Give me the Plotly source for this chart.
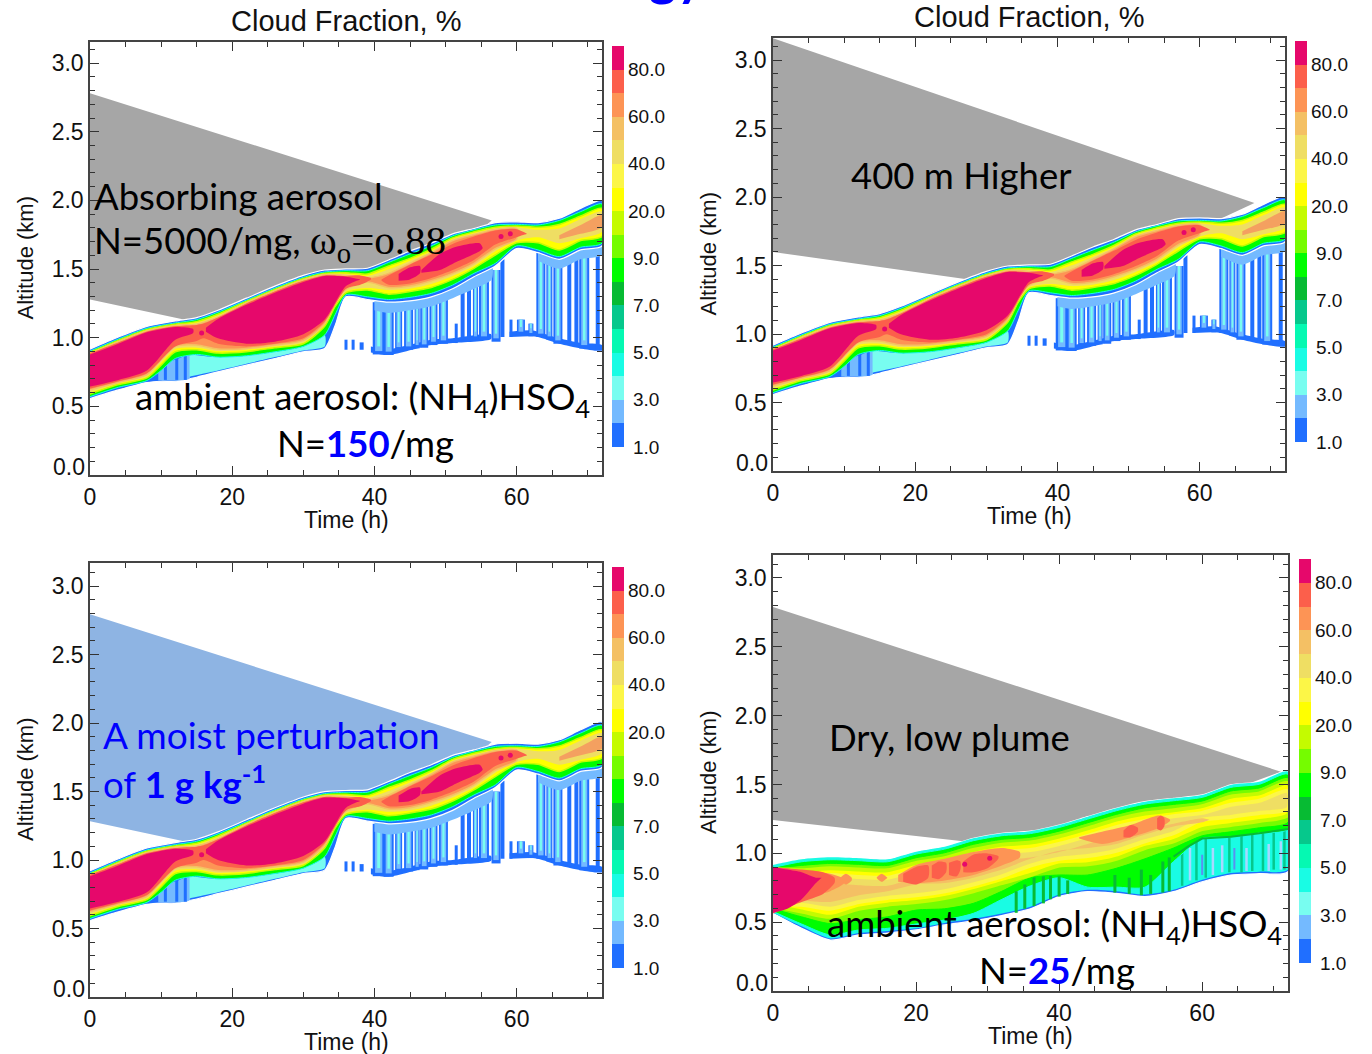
import plotly.graph_objects as go

# ---------- colour bar ----------
CB_COLORS = ["#206fff", "#74baff", "#78fdf0", "#19fce4", "#05f9b2", "#06c88c", "#07bb33", "#00fd00", "#75fc00",
             "#c4fb00", "#ffff00", "#fcf647", "#efde63", "#f4c064", "#fd9455", "#fc5f4b", "#e6086b"]
CB_LABELS = ["1.0", "3.0", "5.0", "7.0", "9.0", "20.0", "40.0", "60.0", "80.0"]
CB_LABEL_POS = [0, 2, 4, 6, 8, 10, 12, 14, 16]
Y_TICKS = [0, .5, 1, 1.5, 2, 2.5, 3]
Y_TICK_TEXT = ["", "0.5", "1.0", "1.5", "2.0", "2.5", "3.0"]

# ---------- cloud in panels A, B, C: edge altitudes (see READ_SCALE) ----------
ABC_T_TOP = [0, 4, 8, 12, 15, 18, 22, 26, 30, 33, 36, 39, 42, 45, 48, 51, 54, 57, 60, 63, 66, 69, 72]
ABC_BLUE_TOP = [.88, .97, 1.05, 1.09, 1.115, 1.17, 1.26, 1.35, 1.43, 1.47, 1.478, 1.483, 1.545, 1.612, 1.67, 1.74, 1.78, 1.824, 1.83, 1.824, 1.856, 1.93, 1.988]
ABC_GREEN_TOP = [.865, .955, 1.035, 1.075, 1.10, 1.155, 1.245, 1.335, 1.415, 1.455, 1.465, 1.465, 1.527, 1.59, 1.65, 1.725, 1.77, 1.806, 1.811, 1.806, 1.84, 1.906, 1.963]
ABC_YELLOW_TOP = [.855, .945, 1.025, 1.065, 1.085, 1.14, 1.235, 1.325, 1.405, 1.445, 1.45, 1.44, 1.50, 1.557, 1.625, 1.71, 1.755, 1.789, 1.799, 1.789, 1.81, 1.873, 1.93]
ABC_KHAKI_TOP = [.85, .94, 1.02, 1.06, 1.075, 1.13, 1.23, 1.32, 1.40, 1.44, 1.44, 1.425, 1.475, 1.54, 1.61, 1.70, 1.745, 1.78, 1.79, 1.77, 1.78, 1.85, 1.906]
ABC_ORANGE_TOP = [.845, .935, 1.015, 1.055, 1.065, 1.12, 1.225, 1.315, 1.395, 1.435, 1.43, 1.41, 1.445, 1.52, 1.60, 1.69, 1.735, 1.774, 1.78]

ABC_T_LOW = [0, 4, 8, 10, 12, 15, 18, 22, 26, 30, 33, 34.5, 36, 39, 42, 45, 48, 51, 54, 57, 60, 63, 66, 69, 72]
ABC_BLUE_LOW = [.51, .575, .63, .64, .64, .67, .71, .76, .81, .86, .885, 1.06, 1.27, 1.25, 1.23, 1.24, 1.27, 1.33, 1.42, 1.50, 1.63, 1.60, 1.55, 1.62, 1.65]
ABC_GREEN_LOW = [.525, .595, .645, .72, .81, .84, .82, .83, .86, .90, .985, 1.14, 1.285, 1.27, 1.25, 1.266, 1.296, 1.358, 1.445, 1.52, 1.65, 1.62, 1.57, 1.64, 1.67]
ABC_YELLOW_LOW = [.545, .615, .665, .76, .86, .875, .85, .86, .89, .92, 1.05, 1.2, 1.3, 1.32, 1.29, 1.31, 1.34, 1.40, 1.483, 1.582, 1.674, 1.674, 1.62, 1.69, 1.72]
ABC_KHAKI_LOW = [.555, .625, .675, .78, .88, .89, .865, .875, .90, .93, 1.06, 1.21, 1.31, 1.335, 1.32, 1.33, 1.365, 1.425, 1.50, 1.61, 1.69, 1.714, 1.67, 1.707, 1.756]
ABC_ORANGE_LOW = [.575, .63, .69, .80, .90, .91, .88, .885, .91, .945, 1.07, 1.23, 1.325, 1.38, 1.34, 1.35, 1.39, 1.445, 1.52, 1.63, 1.70]

ABC_ORANGE2_T = [66, 69, 72]
ABC_ORANGE2_LOW = [1.70, 1.74, 1.79]
ABC_ORANGE2_TOP = [1.73, 1.806, 1.88]

ABC_CORAL1_T = [0, 4, 8, 12, 15, 16, 18, 22, 26, 30, 33, 36, 38, 39.5]
ABC_CORAL1_LOW = [.585, .64, .70, .90, .94, .96, .92, .90, .92, .96, 1.085, 1.33, 1.36, 1.40]
ABC_CORAL1_TOP = [.85, .93, 1.012, 1.05, 1.06, 1.07, 1.115, 1.22, 1.31, 1.39, 1.43, 1.425, 1.43, 1.41]
ABC_CORAL2_T = [41, 42, 45, 48, 51, 54, 57, 60, 61.5]
ABC_CORAL2_LOW = [1.39, 1.36, 1.37, 1.41, 1.47, 1.545, 1.66, 1.715, 1.74]
ABC_CORAL2_TOP = [1.40, 1.43, 1.51, 1.585, 1.665, 1.72, 1.765, 1.775, 1.74]

ABC_PINK1_T = [0, 4, 8, 12, 14.5]
ABC_PINK1_LOW = [.60, .65, .72, .95, 1.0]
ABC_PINK1_TOP = [.84, .92, 1.005, 1.045, 1.03]
ABC_PINK2_T = [16.3, 18, 22, 26, 30, 33, 36, 38]
ABC_PINK2_LOW = [1.01, .96, .92, .935, .99, 1.1, 1.35, 1.40]
ABC_PINK2_TOP = [1.04, 1.105, 1.21, 1.30, 1.38, 1.425, 1.42, 1.40]
ABC_PINK3_T = [43.4, 45, 46.4]
ABC_PINK3_LOW = [1.39, 1.40, 1.445]
ABC_PINK3_TOP = [1.44, 1.49, 1.50]
ABC_PINK4_T = [46.6, 49.2, 51.5, 54.8, 55.2]
ABC_PINK4_LOW = [1.45, 1.47, 1.53, 1.61, 1.63]
ABC_PINK4_TOP = [1.47, 1.59, 1.644, 1.67, 1.64]
ABC_SPOT_T = [15.7, 57.8, 59.1]
ABC_SPOT_ALT = [1.0, 1.72, 1.74]

# thin cloud below the main deck
ABC_CYAN_T = [14, 18, 22, 26, 30, 33]
ABC_CYAN_LOW = [.675, .72, .77, .82, .87, .90]
ABC_CYAN_TOP = [.84, .82, .83, .86, .90, .985]
ABC_FRINGE_T = [40, 42, 45, 48, 51, 54, 56.5]
ABC_FRINGE_LOW = [1.17, 1.15, 1.17, 1.20, 1.26, 1.33, 1.40]
ABC_FRINGE_TOP = [1.27, 1.25, 1.266, 1.296, 1.358, 1.445, 1.51]
ABC_FRINGE2_T = [63, 66, 69, 72]
ABC_FRINGE2_LOW = [1.54, 1.48, 1.55, 1.58]
ABC_FRINGE2_TOP = [1.62, 1.57, 1.64, 1.67]
ABC_ARCH_T = [9.6, 11, 12.5, 14]
ABC_ARCH_LOW = [.645, .645, .645, .66]
ABC_ARCH_TOP = [.70, .78, .81, .84]
ABC_BASE1_T = [39.5, 42, 48, 51, 56.4]
ABC_BASE1_LOW = [.855, .836, .91, .925, .955]
ABC_BASE1_TOP = [.90, .88, .95, .96, .99]
ABC_BASE2_T = [59, 62, 63, 66, 69, 72]
ABC_BASE2_LOW = [.97, .975, .97, .92, .885, .87]
ABC_BASE2_TOP = [1.01, 1.02, 1.01, .96, .925, .91]
ABC_COL_T = [10.6, 12.2, 13.4, 36.0, 37.0, 38.2, 40.6, 42.0, 43.4, 44.8, 46.0, 47.0, 48.3, 49.7, 51.5, 52.4, 53.3, 54.2, 55.4, 57.1, 58.0, 59.2, 60.6, 62.0, 63.4, 64.6, 65.8, 67.4, 68.4, 69.5, 71.4]
ABC_COL_TOP = [.76, .82, .84, .95, .95, .93, 1.23, 1.23, 1.25, 1.25, 1.26, 1.27, 1.28, 1.32, 1.07, 1.37, 1.38, 1.40, 1.45, 1.47, 1.55, 1.10, 1.10, 1.07, 1.62, 1.60, 1.56, 1.58, 1.60, 1.62, 1.67]
ABC_COL_BOT = [.65, .65, .65, .875, .875, .875, .84, .836, .87, .875, .885, .89, .91, .92, .925, .95, .95, .95, .95, .935, .97, .97, .985, .975, .97, .95, .92, .91, .90, .885, .875]
ABC_COL_WIDTH = [3, 3, 3, 3, 3, 4, 12, 10, 7, 9, 5, 8, 8, 9, 3, 4, 4, 5, 10, 9, 4, 3, 8, 5, 9, 6, 9, 4, 4, 10, 4]

# ---------- cloud in panel D ----------
D_T = [0, 4, 8, 12, 16, 20, 24, 28, 32, 36, 40, 44, 48, 52, 56, 60, 64, 68, 72]
D_BLUE_TOP = [.874, .916, .931, .924, .916, .973, 1.01, 1.072, 1.109, 1.125, 1.17, 1.232, 1.294, 1.343, 1.368, 1.393, 1.467, 1.49, 1.565]
D_GREEN_TOP = [.856, .898, .913, .906, .898, .955, .992, 1.054, 1.091, 1.107, 1.152, 1.214, 1.276, 1.325, 1.35, 1.375, 1.449, 1.472, 1.547]
D_LIME_TOP = [.85, .871, .886, .879, .871, .928, .965, 1.027, 1.064, 1.08, 1.125, 1.187, 1.249, 1.298, 1.323, 1.348, 1.422, 1.445, 1.52]
D_YELLOW_TOP = [.845, .835, .85, .84, .835, .89, .925, .985, 1.025, 1.04, 1.085, 1.145, 1.21, 1.255, 1.28, 1.31, 1.38, 1.405, 1.48]
D_KHAKI_TOP = [.835, .79, .80, .785, .78, .835, .87, .93, .97, .985, 1.03, 1.09, 1.155, 1.20, 1.235, 1.26, 1.32, 1.35, 1.42]
D_BLUE_LOW = [.516, .405, .318, .356, .37, .393, .43, .46, .50, .55, .64, .677, .664, .64, .677, .75, .80, .81, .825]
D_CYAN_LOW = [.52, .42, .33, .37, .385, .405, .445, .475, .515, .565, .655, .69, .68, .655, .69, .765, .815, .825, .84]
D_GREEN_LOW = [.53, .437, .356, .393, .405, .437, .467, .516, .62, .72, .78, .71, .71, .71, .90, 1.07, 1.08, 1.11, 1.14]
D_LIME_LOW = [.55, .49, .44, .47, .49, .54, .55, .59, .68, .78, .80, .80, .85, .92, 1.0, 1.09, 1.12, 1.15, 1.19]
D_YELLOW_LOW = [.57, .53, .49, .55, .58, .60, .63, .68, .74, .80, .87, .88, .92, 1.00, 1.05, 1.14, 1.17, 1.2, 1.245]
D_KHAKI_LOW = [.58, .58, .55, .60, .63, .65, .68, .73, .79, .87, .92, .94, .98, 1.05, 1.11, 1.21, 1.23, 1.26, 1.29]

D_LORANGE_T = [0, 4, 8, 12, 16, 20, 24, 28, 32, 36, 40, 44, 48, 52, 56, 60, 61]
D_LORANGE_TOP = [.825, .76, .74, .725, .72, .78, .81, .87, .91, .93, .97, 1.03, 1.09, 1.14, 1.18, 1.22, 1.21]
D_LORANGE_LOW = [.59, .61, .60, .65, .68, .73, .74, .78, .84, .92, .98, 1.0, 1.03, 1.1, 1.16, 1.19, 1.21]

D_ORANGE_BLOBS_T = [[0, 4, 8, 10], [9.4, 10.2, 11], [14.5, 15.2, 16], [17.5, 20, 24, 28, 32, 34.5], [42.8, 46, 50, 54, 55.5]]
D_ORANGE_BLOBS_LOW = [[.52, .62, .68, .74], [.76, .73, .76], [.78, .75, .78], [.75, .74, .76, .80, .87, .93], [1.07, 1.03, 1.08, 1.15, 1.20]]
D_ORANGE_BLOBS_TOP = [[.85, .83, .81, .77], [.78, .81, .78], [.78, .81, .78], [.80, .875, .92, .97, 1.0, .97], [1.08, 1.12, 1.17, 1.24, 1.21]]
D_CORAL_BLOBS_T = [[0, 4, 7, 8.6], [18.2, 20, 21.7], [22.2, 23.2, 24.2], [24.6, 25.7, 26.2], [26.6, 28, 30, 31.5], [49, 50, 51], [53.7, 54.2, 54.7]]
D_CORAL_BLOBS_LOW = [[.515, .60, .66, .74], [.75, .73, .78], [.78, .77, .82], [.80, .79, .84], [.82, .82, .85, .92], [1.08, 1.08, 1.12], [1.14, 1.13, 1.16]]
D_CORAL_BLOBS_TOP = [[.86, .84, .82, .78], [.81, .86, .87], [.87, .90, .89], [.89, .91, .90], [.90, .95, .96, .94], [1.13, 1.17, 1.15], [1.22, 1.24, 1.22]]
D_PINK_T = [0, 2, 4, 6, 6.8]
D_PINK_LOW = [.52, .55, .62, .74, .78]
D_PINK_TOP = [.862, .84, .82, .78, .78]
D_SPOT_T = [26.8, 30.3]
D_SPOT_ALT = [.88, .925]

D_DARK_T = [56, 58, 60, 64, 68, 72]
D_DARK_ALT = [.936, 1.01, 1.07, 1.084, 1.109, 1.14]
D_DRIP_T = [34, 35.2, 36.5, 37.8, 38.8, 40.0, 41.2, 47.8, 49.8, 51.5, 52.8, 54.5, 55.4]
D_DRIP_TOP = [.68, .73, .79, .80, .80, .79, .76, .80, .78, .84, .80, .90, .93]
D_DRIP_BOT = [.52, .55, .57, .59, .62, .64, .66, .67, .66, .65, .66, .67, .68]
D_TEAL_T = [57.2, 59.2, 60.5, 63.8, 65.5, 67, 68.5, 70, 71.5]
D_TEAL_TOP = [1.0, 1.06, 1.07, 1.08, 1.09, 1.10, 1.11, 1.12, 1.13]
D_TEAL_BOT = [.72, .76, .78, .82, .82, .83, .83, .84, .84]
D_LIGHT_T = [58.3, 61.5, 62.8, 66.2, 69.3, 71]
D_LIGHT_TOP = [1.0, 1.0, 1.02, 1.0, 1.03, 1.05]
D_LIGHT_BOT = [.76, .80, .82, .83, .83, .84]
D_STREAK_T = [60, 64.5]
D_STREAK_TOP = [.95, 1.0]
D_STREAK_BOT = [.80, .84]

# ---------- plume wedges; their lower edges hide behind the cloud ----------
WEDGE_A_T = [0, 56.5, 50, 40, 30, 20, 15, 0]
WEDGE_A_ALT = [2.79, 1.84, 1.55, 1.35, 1.25, 1.12, 1.08, 1.25]
WEDGE_B_T = [0, 67.7, 60, 50, 40, 30, 0]
WEDGE_B_ALT = [3.17, 1.94, 1.75, 1.55, 1.40, 1.35, 1.575]
WEDGE_D_T = [0, 71, 60, 40, 30, 0]
WEDGE_D_ALT = [2.785, 1.565, 1.35, 1.10, 1.03, 1.207]

# ---------- panel frames, in page pixels: left, right, top, bottom, px per km ----------
FRAMES = [(90, 602, 42, 475, 137.3), (773, 1285, 38, 471, 137), (90, 602, 563, 997, 137), (773, 1288, 555, 991, 137.7)]
# the edge lists above were read with this px-per-km and with their zero 8 px above the axis floor
READ_SCALE = [134, 134, 134.3, 135]
BARS = [(612, 624, 46, 447), (1295, 1307, 41, 442), (612, 624, 567, 968), (1299, 1311, 559, 963)]
PANEL_TITLES = ["Cloud Fraction, %", "Cloud Fraction, %", None, None]
YTITLE_X = [25, 708, 25, 708]
W, H = 1372, 1054
SANS = "Liberation Sans"
CAL = "Lato"
BLACK = "#111111"
fig = go.Figure()


def px(x):
    return x / W


def py(y):
    return 1 - y / H


def km(ax, values):
    n = int(ax or 1) - 1
    return [(8 + READ_SCALE[n] * v) / FRAMES[n][4] for v in values]


def band(ax, t_hi, hi, t_lo, lo, fill, stroke=None, w=0):
    t_a = list(t_hi[:len(hi)])
    t_b = list(t_lo[:len(lo)])
    fig.add_trace(go.Scatter(x=t_a + t_b[::-1], y=km(ax, list(hi) + list(lo)[::-1]), fill="toself", fillcolor=fill,
                             mode="lines", line=dict(color=stroke or fill, width=w, shape="spline", smoothing=.7),
                             hoverinfo="skip", showlegend=False, xaxis="x" + ax, yaxis="y" + ax))


def columns(ax, ts, tops, bots, colour, width):
    xs, ys = [], []
    for t, a, b in zip(ts, km(ax, tops), km(ax, bots)):
        xs += [t, t, None]
        ys += [a, b, None]
    fig.add_trace(go.Scatter(x=xs, y=ys, mode="lines", line=dict(color=colour, width=width), hoverinfo="skip",
                             showlegend=False, xaxis="x" + ax, yaxis="y" + ax))


def spots(ax, ts, alts):
    fig.add_trace(go.Scatter(x=ts, y=km(ax, alts), mode="markers", marker=dict(color="#e6086b", size=5),
                             hoverinfo="skip", showlegend=False, xaxis="x" + ax, yaxis="y" + ax))


def cloud_abc(ax):
    for base in [(ABC_BASE1_T, ABC_BASE1_TOP, ABC_BASE1_LOW), (ABC_BASE2_T, ABC_BASE2_TOP, ABC_BASE2_LOW)]:
        band(ax, base[0], base[1], base[0], base[2], "#206fff")
    for t, a, b, wd in zip(ABC_COL_T, ABC_COL_TOP, ABC_COL_BOT, ABC_COL_WIDTH):
        columns(ax, [t], [a], [b], "#206fff", wd)
        if wd >= 5:
            columns(ax, [t], [a], [b + .025], "#74baff", wd * .6)
            columns(ax, [t], [a], [b + .06], "#78fdf0", wd * .25)
    band(ax, ABC_FRINGE_T, ABC_FRINGE_TOP, ABC_FRINGE_T, ABC_FRINGE_LOW, "#74baff")
    band(ax, ABC_FRINGE2_T, ABC_FRINGE2_TOP, ABC_FRINGE2_T, ABC_FRINGE2_LOW, "#74baff")
    band(ax, ABC_T_TOP, ABC_BLUE_TOP, ABC_T_LOW, ABC_BLUE_LOW, "#206fff", "#ffffff", 1.2)
    band(ax, ABC_ARCH_T, ABC_ARCH_TOP, ABC_ARCH_T, ABC_ARCH_LOW, "#74baff")
    columns(ax, ABC_COL_T[:3], ABC_COL_TOP[:3], ABC_COL_BOT[:3], "#206fff", 3)
    band(ax, ABC_CYAN_T, ABC_CYAN_TOP, ABC_CYAN_T, ABC_CYAN_LOW, "#78fdf0")
    band(ax, ABC_T_TOP, ABC_GREEN_TOP, ABC_T_LOW, ABC_GREEN_LOW, "#00fd00", "#19fce4", 1)
    band(ax, ABC_T_TOP, ABC_YELLOW_TOP, ABC_T_LOW, ABC_YELLOW_LOW, "#ffff00", "#c4fb00", 1.5)
    band(ax, ABC_T_TOP, ABC_KHAKI_TOP, ABC_T_LOW, ABC_KHAKI_LOW, "#efde63")
    band(ax, ABC_T_TOP, ABC_ORANGE_TOP, ABC_T_LOW, ABC_ORANGE_LOW, "#fd9455", "#f4c064", 1.5)
    band(ax, ABC_ORANGE2_T, ABC_ORANGE2_TOP, ABC_ORANGE2_T, ABC_ORANGE2_LOW, "#f4a060")
    band(ax, ABC_CORAL1_T, ABC_CORAL1_TOP, ABC_CORAL1_T, ABC_CORAL1_LOW, "#fc5f4b")
    band(ax, ABC_CORAL2_T, ABC_CORAL2_TOP, ABC_CORAL2_T, ABC_CORAL2_LOW, "#fc5f4b")
    for t, hi, lo in [(ABC_PINK1_T, ABC_PINK1_TOP, ABC_PINK1_LOW), (ABC_PINK2_T, ABC_PINK2_TOP, ABC_PINK2_LOW),
                      (ABC_PINK3_T, ABC_PINK3_TOP, ABC_PINK3_LOW), (ABC_PINK4_T, ABC_PINK4_TOP, ABC_PINK4_LOW)]:
        band(ax, t, hi, t, lo, "#e6086b")
    spots(ax, ABC_SPOT_T, ABC_SPOT_ALT)


def cloud_d(ax):
    band(ax, D_T, D_BLUE_TOP, D_T, D_BLUE_LOW, "#206fff", "#ffffff", 1.2)
    band(ax, D_T, D_BLUE_TOP, D_T, D_CYAN_LOW, "#19fce4")
    columns(ax, D_TEAL_T, D_TEAL_TOP, D_TEAL_BOT, "#06c88c", 2.5)
    columns(ax, D_LIGHT_T, D_LIGHT_TOP, D_LIGHT_BOT, "#a8d8ff", 2.5)
    columns(ax, D_STREAK_T, D_STREAK_TOP, D_STREAK_BOT, "#5a90f0", 2)
    band(ax, D_T, D_GREEN_TOP, D_T, D_GREEN_LOW, "#00fd00", "#19fce4", 1)
    columns(ax, D_DRIP_T, D_DRIP_TOP, D_DRIP_BOT, "#07bb33", 3)
    band(ax, D_T, D_LIME_TOP, D_T, D_LIME_LOW, "#75fc00", "#00fd00", 1)
    band(ax, D_T, D_YELLOW_TOP, D_T, D_YELLOW_LOW, "#ffff00", "#c4fb00", 4)
    band(ax, D_T, D_KHAKI_TOP, D_T, D_KHAKI_LOW, "#efde63", "#fcf647", 4)
    band(ax, D_LORANGE_T, D_LORANGE_TOP, D_LORANGE_T, D_LORANGE_LOW, "#f4c064")
    for t, hi, lo in zip(D_ORANGE_BLOBS_T, D_ORANGE_BLOBS_TOP, D_ORANGE_BLOBS_LOW):
        band(ax, t, hi, t, lo, "#fd9455")
    for t, hi, lo in zip(D_CORAL_BLOBS_T, D_CORAL_BLOBS_TOP, D_CORAL_BLOBS_LOW):
        band(ax, t, hi, t, lo, "#fc5f4b")
    band(ax, D_PINK_T, D_PINK_TOP, D_PINK_T, D_PINK_LOW, "#e6086b")
    spots(ax, D_SPOT_T, D_SPOT_ALT)
    fig.add_trace(go.Scatter(x=D_DARK_T, y=km(ax, D_DARK_ALT), mode="lines", line=dict(color="#07bb33", width=2),
                             hoverinfo="skip", showlegend=False, xaxis="x" + ax, yaxis="y" + ax))


def wedge(ax, ts, alts, colour):
    fig.add_trace(go.Scatter(x=ts, y=km(ax, alts), fill="toself", fillcolor=colour, mode="lines", line=dict(width=0),
                             hoverinfo="skip", showlegend=False, xaxis="x" + ax, yaxis="y" + ax))


wedge("", WEDGE_A_T, WEDGE_A_ALT, "#a6a6a6")
cloud_abc("")
wedge("2", WEDGE_B_T, WEDGE_B_ALT, "#a6a6a6")
cloud_abc("2")
wedge("3", WEDGE_A_T, WEDGE_A_ALT, "#8eb4e3")
cloud_abc("3")
wedge("4", WEDGE_D_T, WEDGE_D_ALT, "#a6a6a6")
cloud_d("4")

layout = dict(width=W, height=H, margin=dict(l=0, r=0, t=0, b=0), paper_bgcolor="white", plot_bgcolor="white",
              showlegend=False, font=dict(family=SANS, color=BLACK))
annotations = []
stops = []
for i, c in enumerate(CB_COLORS):
    stops += [[i / len(CB_COLORS), c], [(i + 1) / len(CB_COLORS), c]]

for n, ((l, r, t, b, s), (bl, br, bt, bb)) in enumerate(zip(FRAMES, BARS)):
    sx = "" if n == 0 else str(n + 1)
    line = dict(showline=True, linecolor="#444444", linewidth=1.5, mirror="allticks", ticks="inside", showgrid=False,
                zeroline=False, tickcolor="#333333", tickfont=dict(size=23, family=SANS, color=BLACK), automargin=False)
    layout["xaxis" + sx] = dict(domain=[px(l), px(r)], range=[0, 72], anchor="y" + sx, tick0=0, dtick=20, ticklen=9,
                                ticklabelstandoff=1,
                                minor=dict(tick0=0, dtick=5, ticks="inside", ticklen=5, tickcolor="#333333", showgrid=False),
                                **line)
    layout["yaxis" + sx] = dict(domain=[py(b), py(t)], range=[0, (b - t) / s], anchor="x" + sx, tickmode="array",
                                tickvals=Y_TICKS, ticktext=Y_TICK_TEXT, ticklen=9,
                                minor=dict(tickmode="linear", tick0=0, dtick=.1, ticks="inside", ticklen=5,
                                           tickcolor="#333333", showgrid=False),
                                **line)
    annotations.append(dict(text="0.0", x=px(l - 3), y=py(b - 8), xref="paper", yref="paper", xanchor="right",
                            yanchor="middle", showarrow=False, font=dict(size=23, family=SANS, color=BLACK)))
    if PANEL_TITLES[n]:
        annotations.append(dict(text=PANEL_TITLES[n], x=px((l + r) / 2), y=py(t - 21), xref="paper", yref="paper",
                                xanchor="center", yanchor="middle", showarrow=False,
                                font=dict(size=29, family=SANS, color=BLACK)))
    annotations.append(dict(text="Time (h)", x=px((l + r) / 2), y=py(b + 45), xref="paper", yref="paper",
                            xanchor="center", yanchor="middle", showarrow=False,
                            font=dict(size=23, family=SANS, color=BLACK)))
    annotations.append(dict(text="Altitude (km)", x=px(YTITLE_X[n]), y=py((t + b) / 2), xref="paper", yref="paper",
                            xanchor="center", yanchor="middle", textangle=-90, showarrow=False,
                            font=dict(size=22, family=SANS, color=BLACK)))
    # colour bar
    cx, cy = str(n + 5), str(n + 5)
    layout["xaxis" + cx] = dict(domain=[px(bl), px(br)], range=[0, 1], visible=False, anchor="y" + cy)
    layout["yaxis" + cy] = dict(domain=[py(bb), py(bt)], range=[0, len(CB_COLORS)], visible=False, anchor="x" + cx)
    fig.add_trace(go.Heatmap(x=[.5], y=[i + .5 for i in range(len(CB_COLORS))], z=[[i] for i in range(len(CB_COLORS))],
                             colorscale=stops, zmin=-.5, zmax=len(CB_COLORS) - .5, showscale=False, hoverinfo="skip",
                             xaxis="x" + cx, yaxis="y" + cy))
    for lab, pos in zip(CB_LABELS, CB_LABEL_POS):
        annotations.append(dict(text=lab, x=px(br + 22), y=pos, xref="paper", yref="y" + cy, xanchor="center",
                                yanchor="middle", showarrow=False, font=dict(size=19, family=SANS, color=BLACK)))


def note(text, x, y, size=36.5, colour="#000000", anchor="left"):
    annotations.append(dict(text=text, x=px(x - 2), y=py(y - 2), xref="paper", yref="paper", xanchor=anchor, yanchor="middle",
                            showarrow=False, font=dict(size=size, family=CAL, color=colour)))


AMBIENT = "ambient aerosol: (NH<sub>4</sub>)HSO<sub>4</sub>"
note("Absorbing aerosol", 94, 198)
note("N=5000/mg, <span style='font-family:Liberation Serif;font-size:41px'>ω<sub>o</sub>=o.88</span>", 94, 245)
note(AMBIENT, 135, 400)
note("N=<b><span style='color:#0000ff'>150</span></b>/mg", 367, 445, anchor="center")
note("400 m Higher", 851, 177)
note("A moist perturbation", 103, 736, colour="#0000ff", size=37)
note("of <b>1 g kg<sup>-1</sup></b>", 103, 784, colour="#0000ff")
note("Dry, low plume", 829, 739)
note(AMBIENT, 827, 927)
note("N=<b><span style='color:#0000ff'>25</span></b>/mg", 1059, 972, anchor="center")
annotations.append(dict(text="<b>gy</b>", x=px(676), y=py(8), xref="paper", yref="paper", xanchor="center",
                        yanchor="bottom", showarrow=False, font=dict(size=52, family=CAL, color="#0000ff")))
layout["annotations"] = annotations
fig.update_layout(**layout)
fig.write_html("out.html", post_script="document.body.style.margin='0';", config={"displayModeBar": False})
